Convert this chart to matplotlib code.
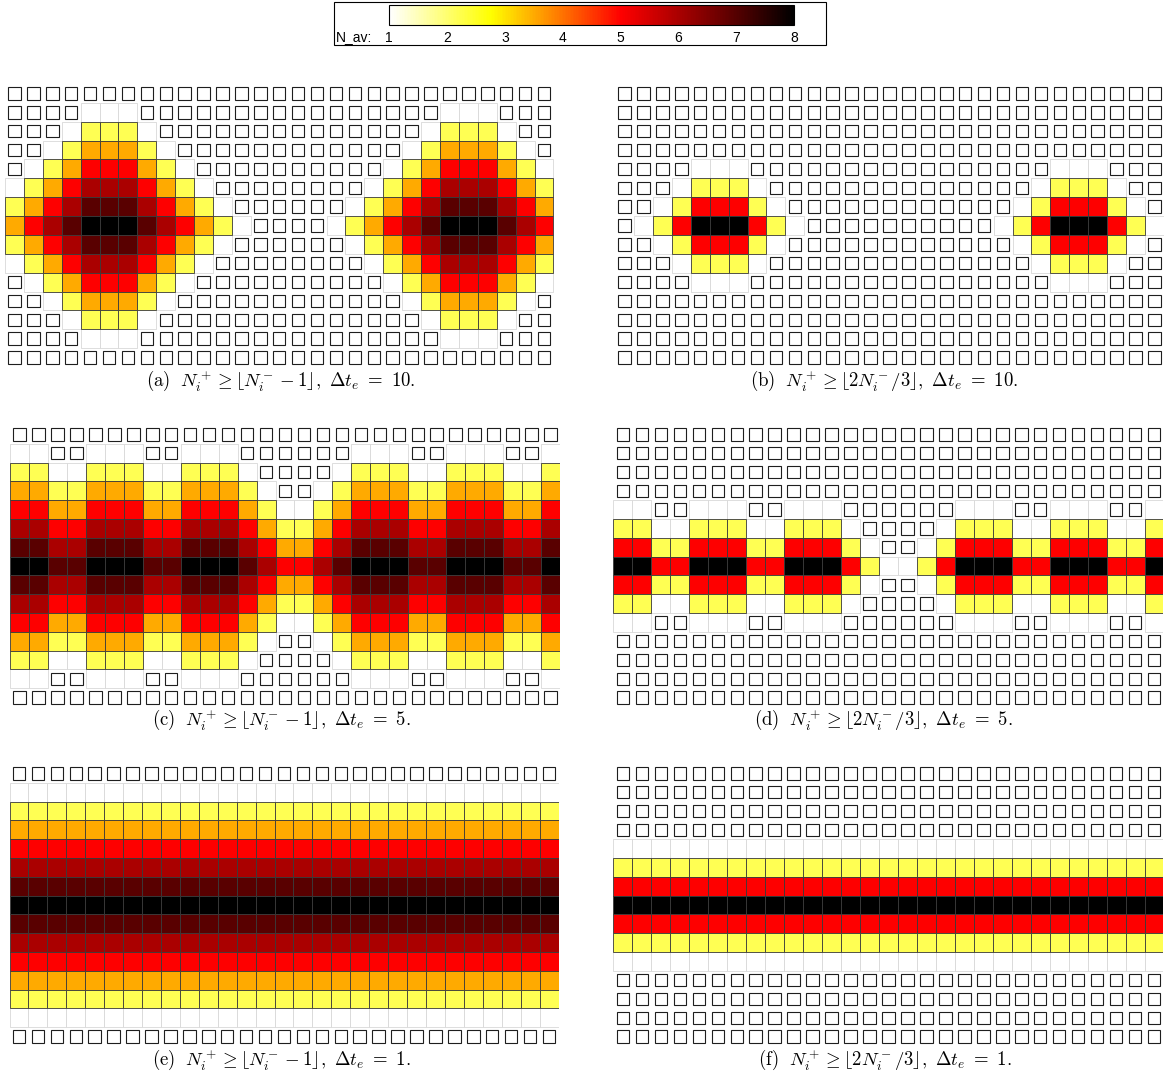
import matplotlib
matplotlib.use("Agg")
import matplotlib.pyplot as plt
from matplotlib.patches import Rectangle
from matplotlib.colors import LinearSegmentedColormap, Normalize

W, H = 1168, 1082

# cell codes read from the picture and the N_av value each code stands for
CODES = ['.', '-', 'y', 'o', 'r', 'd', 'm', 'k']
N_AV = [1.0, 1.01, 2.2, 3.5, 5.0, 6.0, 6.95, 8.0]

GRID_A = [
    ".............................",
    "....---................---...",
    "...-yyy-..............-yyy-..",
    "..-yoooy-............-yoooy-.",
    ".-yorrroy-..........-yorrroy-",
    "-yordddroy-........-yordddroy",
    "yordmmmdroy-......-yordmmmdro",
    "ordmkkkmdroy-....-yordmkkkmdr",
    "yordmmmdroy-......-yordmmmdro",
    "-yordddroy-........-yordddroy",
    ".-yorrroy-..........-yorrroy-",
    "..-yoooy-............-yoooy-.",
    "...-yyy-..............-yyy-..",
    "....---................---...",
    ".............................",
]

GRID_B = [
    ".............................",
    ".............................",
    ".............................",
    ".............................",
    "....---................---...",
    "...-yyy-..............-yyy-..",
    "..-yrrry-............-yrrry-.",
    ".-yrkkkry-..........-yrkkkry-",
    "..-yrrry-............-yrrry-.",
    "...-yyy-..............-yyy-..",
    "....---................---...",
    ".............................",
    ".............................",
    ".............................",
    ".............................",
]

GRID_C = [
    ".............................",
    "--..---..---......---..---..-",
    "yy--yyy--yyy-....-yyy--yyy--y",
    "ooyyoooyyoooy-..-yoooyyoooyyo",
    "rroorrroorrroy--yorrroorrroor",
    "ddrrdddrrdddroyyordddrrdddrrd",
    "mmddmmmddmmmdroordmmmddmmmddm",
    "kkmmkkkmmkkkmdrrdmkkkmmkkkmmk",
    "mmddmmmddmmmdroordmmmddmmmddm",
    "ddrrdddrrdddroyyordddrrdddrrd",
    "rroorrroorrroy--yorrroorrroor",
    "ooyyoooyyoooy-..-yoooyyoooyyo",
    "yy--yyy--yyy-....-yyy--yyy--y",
    "--..---..---......---..---..-",
    ".............................",
]

GRID_D = [
    ".............................",
    ".............................",
    ".............................",
    ".............................",
    "--..---..---......---..---..-",
    "yy--yyy--yyy-....-yyy--yyy--y",
    "rryyrrryyrrry-..-yrrryyrrryyr",
    "kkrrkkkrrkkkry--yrkkkrrkkkrrk",
    "rryyrrryyrrry-..-yrrryyrrryyr",
    "yy--yyy--yyy-....-yyy--yyy--y",
    "--..---..---......---..---..-",
    ".............................",
    ".............................",
    ".............................",
    ".............................",
]

GRID_E = [
    ".............................",
    "-----------------------------",
    "yyyyyyyyyyyyyyyyyyyyyyyyyyyyy",
    "ooooooooooooooooooooooooooooo",
    "rrrrrrrrrrrrrrrrrrrrrrrrrrrrr",
    "ddddddddddddddddddddddddddddd",
    "mmmmmmmmmmmmmmmmmmmmmmmmmmmmm",
    "kkkkkkkkkkkkkkkkkkkkkkkkkkkkk",
    "mmmmmmmmmmmmmmmmmmmmmmmmmmmmm",
    "ddddddddddddddddddddddddddddd",
    "rrrrrrrrrrrrrrrrrrrrrrrrrrrrr",
    "ooooooooooooooooooooooooooooo",
    "yyyyyyyyyyyyyyyyyyyyyyyyyyyyy",
    "-----------------------------",
    ".............................",
]

GRID_F = [
    ".............................",
    ".............................",
    ".............................",
    ".............................",
    "-----------------------------",
    "yyyyyyyyyyyyyyyyyyyyyyyyyyyyy",
    "rrrrrrrrrrrrrrrrrrrrrrrrrrrrr",
    "kkkkkkkkkkkkkkkkkkkkkkkkkkkkk",
    "rrrrrrrrrrrrrrrrrrrrrrrrrrrrr",
    "yyyyyyyyyyyyyyyyyyyyyyyyyyyyy",
    "-----------------------------",
    ".............................",
    ".............................",
    ".............................",
    ".............................",
]

CAPTIONS = [
    r"$\mathrm{(a)}\ \ N_i^+ \geq \lfloor N_i^- - 1\rfloor,\ \Delta t_e\ =\ 10.$",
    r"$\mathrm{(b)}\ \ N_i^+ \geq \lfloor 2N_i^-/3\rfloor,\ \Delta t_e\ =\ 10.$",
    r"$\mathrm{(c)}\ \ N_i^+ \geq \lfloor N_i^- - 1\rfloor,\ \Delta t_e\ =\ 5.$",
    r"$\mathrm{(d)}\ \ N_i^+ \geq \lfloor 2N_i^-/3\rfloor,\ \Delta t_e\ =\ 5.$",
    r"$\mathrm{(e)}\ \ N_i^+ \geq \lfloor N_i^- - 1\rfloor,\ \Delta t_e\ =\ 1.$",
    r"$\mathrm{(f)}\ \ N_i^+ \geq \lfloor 2N_i^-/3\rfloor,\ \Delta t_e\ =\ 1.$",
]
CBAR_TICKS = [1, 2, 3, 4, 5, 6, 7, 8]
CBAR_LABEL = "N_av:"

plt.rcParams['mathtext.fontset'] = 'cm'
plt.rcParams['font.family'] = ['Liberation Sans', 'DejaVu Sans']

cmap = LinearSegmentedColormap.from_list(
    'nav', [(0.0, 'white'), (0.25, 'yellow'), (4 / 7, 'red'), (1.0, 'black')])
norm = Normalize(1, 8)
value_of = dict(zip(CODES, N_AV))

fig = plt.figure(figsize=(W / 100, H / 100), dpi=100)


def px_axes(x0, y0, w, h):
    return fig.add_axes([x0 / W, 1 - (y0 + h) / H, w / W, h / H])


panels = [
    (GRID_A, (5, 84, 548.5, 283), (281, 381)),
    (GRID_B, (615, 84, 549, 283), (884, 381)),
    (GRID_C, (10, 425, 550, 282), (281, 720)),
    (GRID_D, (613.5, 425, 550, 282), (883, 720)),
    (GRID_E, (9.5, 764, 549, 282), (281, 1060)),
    (GRID_F, (613.5, 764, 550, 282), (885, 1060)),
]

for (grid, box, cap), text in zip(panels, CAPTIONS):
    ax = px_axes(*box)
    nrow, ncol = len(grid), len(grid[0])
    ax.set_xlim(0, ncol)
    ax.set_ylim(nrow, 0)
    ax.axis('off')
    faint, filled, empty = [], [], []
    for r, row in enumerate(grid):
        for c, ch in enumerate(row):
            v = value_of[ch]
            if ch == '.':
                empty.append((c, r, v))
            elif ch == '-':
                faint.append((c, r, v))
            else:
                filled.append((c, r, v))
    for c, r, v in faint:
        ax.add_patch(Rectangle((c, r), 1, 1, facecolor=cmap(norm(v)),
                               edgecolor='#d8d8d8', lw=0.6))
    for c, r, v in filled:
        ax.add_patch(Rectangle((c, r), 1, 1, facecolor=cmap(norm(v)),
                               edgecolor='#3a3a3a', lw=0.6))
    for c, r, v in empty:
        ax.add_patch(Rectangle((c + 0.17, r + 0.17), 0.66, 0.66,
                               facecolor=cmap(norm(v)), edgecolor='#1e1e1e',
                               lw=0.8))
    fig.text(cap[0] / W, 1 - cap[1] / H, text, ha='center', va='center',
             fontsize=13.5)

# colour bar box
fig.patches.append(Rectangle((334 / W, 1 - 45 / H), 492 / W, 43 / H,
                             transform=fig.transFigure, fill=False,
                             edgecolor='black', lw=0.8))
cax = px_axes(389.3, 5, 405, 20)
sm = matplotlib.cm.ScalarMappable(norm=norm, cmap=cmap)
cb = fig.colorbar(sm, cax=cax, orientation='horizontal')
cb.set_ticks(CBAR_TICKS)
cb.ax.tick_params(length=0, pad=4.5, labelsize=10)
cb.outline.set_linewidth(0.8)
fig.text(336 / W, 1 - 37 / H, CBAR_LABEL, ha='left', va='center', fontsize=10)

fig.savefig('out.png', dpi=100)
